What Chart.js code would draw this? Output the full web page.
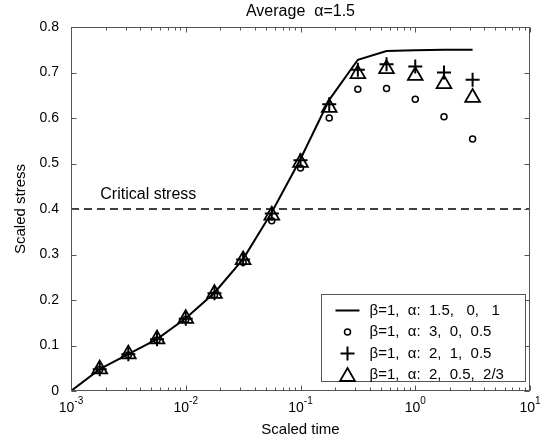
<!DOCTYPE html>
<html>
<head>
<meta charset="utf-8">
<script src="https://cdn.jsdelivr.net/npm/chart.js@4.4.1/dist/chart.umd.min.js"></script>
<style>
    html, body { margin: 0; padding: 0; background: #fff; }
    #wrap { width: 546px; height: 441px; }
</style>
</head>
<body>
<div id="wrap"><canvas id="stressChart" width="546" height="441"></canvas></div>
<script>
// Scaled time of the sampled points (log axis)
const markerTime = [0.00178, 0.00316, 0.00562, 0.01, 0.0178, 0.0316, 0.0562, 0.1, 0.178, 0.316, 0.562, 1.0, 1.78, 3.16];
const lineTime = [0.001].concat(markerTime);

// Series values
const lineStress = [0, 0.048, 0.081, 0.114, 0.160, 0.216, 0.290, 0.393, 0.510, 0.640, 0.728, 0.747, 0.749, 0.750, 0.750];
const circleStress = [0.047, 0.079, 0.112, 0.157, 0.211, 0.283, 0.374, 0.490, 0.600, 0.663, 0.665, 0.641, 0.603, 0.554];
const plusStress = [0.048, 0.081, 0.114, 0.159, 0.215, 0.289, 0.390, 0.507, 0.630, 0.706, 0.718, 0.713, 0.700, 0.684];
const triangleStress = [0.048, 0.081, 0.114, 0.159, 0.214, 0.288, 0.386, 0.502, 0.623, 0.697, 0.708, 0.693, 0.675, 0.645];

const seriesLabels = [
    "β=1,  α:  1.5,   0,   1",
    "β=1,  α:  3,  0,  0.5",
    "β=1,  α:  2,  1,  0.5",
    "β=1,  α:  2,  0.5,  2/3"
];

const criticalStress = 0.4;
const criticalTime = [0.001, 10];

// Axis ticks
const xMajorTicks = [0.001, 0.01, 0.1, 1, 10];
const xTickExponents = ["-3", "-2", "-1", "0", "1"];
const yTicks = [0, 0.1, 0.2, 0.3, 0.4, 0.5, 0.6, 0.7, 0.8];

const FONT = "'Liberation Sans', Arial, Helvetica, sans-serif";

function toPoints(xs, ys) {
    return xs.map((x, i) => ({ x, y: ys[i] }));
}

function drawMarker(ctx, style, x, y) {
    ctx.beginPath();
    if (style === "circle") {
        ctx.lineWidth = 1.5;
        ctx.arc(x, y, 3, 0, Math.PI * 2);
    } else if (style === "cross") {
        ctx.lineWidth = 2;
        ctx.moveTo(x - 7, y);
        ctx.lineTo(x + 7, y);
        ctx.moveTo(x, y - 7);
        ctx.lineTo(x, y + 7);
    } else if (style === "triangle") {
        ctx.lineWidth = 1.8;
        ctx.moveTo(x, y - 7);
        ctx.lineTo(x + 7.5, y + 6);
        ctx.lineTo(x - 7.5, y + 6);
        ctx.closePath();
    } else {
        ctx.lineWidth = 2;
        ctx.moveTo(x - 12, y);
        ctx.lineTo(x + 12, y);
    }
    ctx.stroke();
}

const framePlugin = {
    id: "matlabFrame",
    afterDraw(chart) {
        const { ctx, chartArea: a, scales } = chart;
        const xScale = scales.x;
        const yScale = scales.y;

        ctx.save();
        ctx.strokeStyle = "#555";
        ctx.lineWidth = 1;

        const left = Math.round(a.left) + 0.5;
        const right = Math.round(a.right) - 0.5;
        const top = Math.round(a.top) + 0.5;
        const bottom = Math.round(a.bottom) - 0.5;
        ctx.strokeRect(left, top, right - left, bottom - top);

        // inward ticks, y
        ctx.beginPath();
        yTicks.forEach(v => {
            const py = Math.round(yScale.getPixelForValue(v)) + 0.5;
            ctx.moveTo(left, py); ctx.lineTo(left + 5, py);
            ctx.moveTo(right, py); ctx.lineTo(right - 5, py);
        });
        // inward ticks, x (major + minor)
        xMajorTicks.forEach((v, i) => {
            const px = Math.round(xScale.getPixelForValue(v)) + 0.5;
            ctx.moveTo(px, bottom); ctx.lineTo(px, bottom - 5);
            ctx.moveTo(px, top); ctx.lineTo(px, top + 5);
            if (i < xMajorTicks.length - 1) {
                for (let m = 2; m <= 9; m += 1) {
                    const mx = Math.round(xScale.getPixelForValue(v * m)) + 0.5;
                    ctx.moveTo(mx, bottom); ctx.lineTo(mx, bottom - 3);
                    ctx.moveTo(mx, top); ctx.lineTo(mx, top + 3);
                }
            }
        });
        ctx.stroke();

        // x tick labels with exponent
        ctx.fillStyle = "#000";
        ctx.textBaseline = "alphabetic";
        ctx.textAlign = "left";
        xMajorTicks.forEach((v, i) => {
            const px = xScale.getPixelForValue(v);
            ctx.font = `14px ${FONT}`;
            const baseW = ctx.measureText("10").width;
            ctx.font = `10px ${FONT}`;
            const expW = ctx.measureText(xTickExponents[i]).width;
            const start = px - (baseW + expW) / 2;
            ctx.font = `14px ${FONT}`;
            ctx.fillText("10", start, a.bottom + 21);
            ctx.font = `10px ${FONT}`;
            ctx.fillText(xTickExponents[i], start + baseW, a.bottom + 13);
        });

        // title
        ctx.font = `16px ${FONT}`;
        ctx.textAlign = "center";
        ctx.textBaseline = "middle";
        ctx.fillText("Average  α=1.5", (a.left + a.right) / 2, 12);

        // critical stress label
        ctx.textAlign = "left";
        ctx.fillText("Critical stress", xScale.getPixelForValue(0.0018), yScale.getPixelForValue(0.431));

        // legend
        const boxW = 204;
        const boxH = 87;
        const boxX = Math.round(a.right) - 5 - boxW + 0.5;
        const boxY = Math.round(a.bottom) - 10 - boxH + 0.5;
        ctx.fillStyle = "#fff";
        ctx.fillRect(boxX, boxY, boxW, boxH);
        ctx.strokeStyle = "#555";
        ctx.lineWidth = 1;
        ctx.strokeRect(boxX, boxY, boxW, boxH);

        const styles = ["line", "circle", "cross", "triangle"];
        ctx.font = `15px ${FONT}`;
        ctx.textBaseline = "middle";
        styles.forEach((style, i) => {
            const rowY = boxY + 16 + i * 21.5;
            ctx.strokeStyle = "#000";
            drawMarker(ctx, style, boxX + 26, rowY);
            ctx.fillStyle = "#000";
            ctx.fillText(seriesLabels[i], boxX + 48, rowY);
        });

        ctx.restore();
    }
};

new Chart(document.getElementById("stressChart"), {
    type: "scatter",
    data: {
        datasets: [
            {
                label: seriesLabels[0],
                data: toPoints(lineTime, lineStress),
                showLine: true,
                borderColor: "#000",
                borderWidth: 2,
                pointRadius: 0,
                tension: 0
            },
            {
                label: seriesLabels[1],
                data: toPoints(markerTime, circleStress),
                pointStyle: "circle",
                pointRadius: 3,
                borderWidth: 1.5,
                borderColor: "#000",
                backgroundColor: "rgba(0,0,0,0)"
            },
            {
                label: seriesLabels[2],
                data: toPoints(markerTime, plusStress),
                pointStyle: "cross",
                pointRadius: 7,
                borderWidth: 2,
                borderColor: "#000",
                backgroundColor: "rgba(0,0,0,0)"
            },
            {
                label: seriesLabels[3],
                data: toPoints(markerTime, triangleStress),
                pointStyle: "triangle",
                pointRadius: 8.5,
                borderWidth: 1.8,
                borderColor: "#000",
                backgroundColor: "rgba(0,0,0,0)"
            },
            {
                label: "Critical stress",
                data: toPoints(criticalTime, [criticalStress, criticalStress]),
                showLine: true,
                borderColor: "#000",
                borderWidth: 1.5,
                borderDash: [8, 5],
                pointRadius: 0
            }
        ]
    },
    options: {
        responsive: false,
        animation: false,
        events: [],
        layout: { padding: { top: 27, right: 16, bottom: 0, left: 0 } },
        plugins: {
            legend: { display: false },
            tooltip: { enabled: false }
        },
        scales: {
            x: {
                type: "logarithmic",
                min: 0.001,
                max: 10,
                grid: { display: false },
                border: { display: false },
                ticks: { display: false },
                title: {
                    display: true,
                    text: "Scaled time",
                    color: "#000",
                    font: { size: 15, family: FONT },
                    padding: { top: 0, bottom: 2 }
                },
                afterFit(scale) { scale.height = 50; }
            },
            y: {
                min: 0,
                max: 0.8,
                grid: { display: false },
                border: { display: false },
                afterBuildTicks(scale) {
                    scale.ticks = yTicks.map(v => ({ value: v }));
                },
                ticks: {
                    color: "#000",
                    padding: 4,
                    font: { size: 14, family: FONT },
                    callback: v => String(+Number(v).toFixed(1))
                },
                title: {
                    display: true,
                    text: "Scaled stress",
                    color: "#000",
                    font: { size: 15, family: FONT },
                    padding: { top: 12, bottom: 0 }
                },
                afterFit(scale) { scale.width = 71; }
            }
        }
    },
    plugins: [framePlugin]
});
</script>
</body>
</html>
